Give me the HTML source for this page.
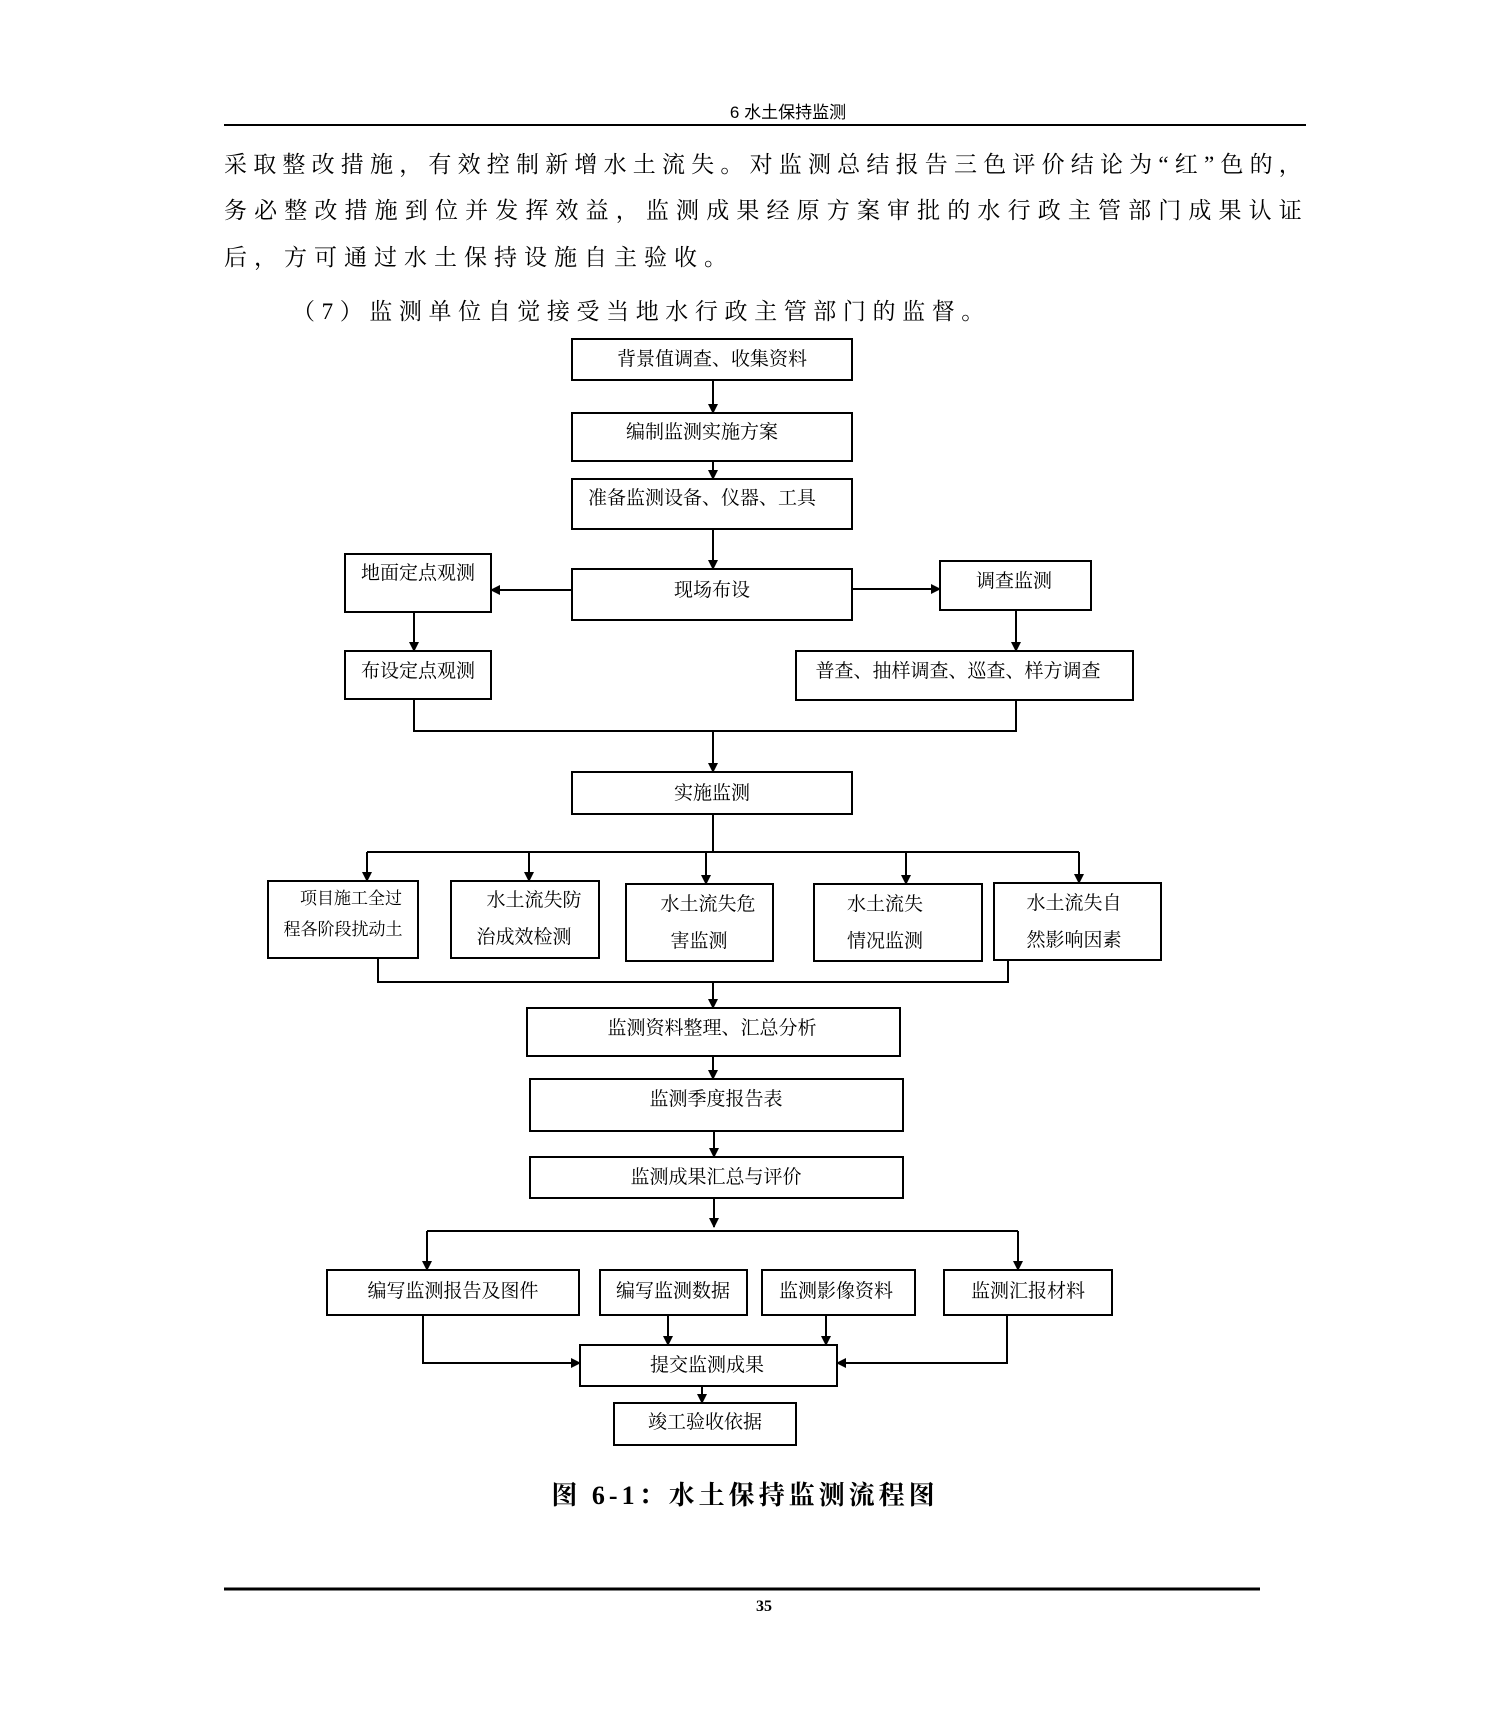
<!DOCTYPE html>
<html><head><meta charset="utf-8"><style>
html,body{margin:0;padding:0;background:#fff;}
svg{display:block}
text{font-family:"Liberation Serif","Noto Serif CJK SC",serif;fill:#000}
.b{fill:#fff;stroke:#000;stroke-width:2}
.l{stroke:#000;stroke-width:2;fill:none}
.t{font-size:19px}
.p{font-size:23px;letter-spacing:4.2px}
</style></head><body>
<svg width="1489" height="1719" viewBox="0 0 1489 1719" xmlns="http://www.w3.org/2000/svg">
<defs><marker id="a" markerWidth="10" markerHeight="10" refX="9" refY="5" orient="auto" markerUnits="userSpaceOnUse"><path d="M0,0 L10,5 L0,10 z" fill="#000"/></marker></defs>
<text x="788" y="118" font-size="17" text-anchor="middle" style="font-family:'Liberation Sans','Noto Sans CJK SC',sans-serif">6 水土保持监测</text>
<line x1="224" y1="125" x2="1306" y2="125" stroke="#000" stroke-width="2"/>
<text class="p" x="224" y="172" textLength="1082" lengthAdjust="spacing">采取整改措施，有效控制新增水土流失。对监测总结报告三色评价结论为“红”色的，</text>
<text class="p" x="224" y="218" textLength="1082" lengthAdjust="spacing">务必整改措施到位并发挥效益，监测成果经原方案审批的水行政主管部门成果认证</text>
<text class="p" x="224" y="265" style="letter-spacing:7px">后，方可通过水土保持设施自主验收。</text>
<text class="p" x="292" y="319" style="letter-spacing:6.6px">（7）监测单位自觉接受当地水行政主管部门的监督。</text>

<g>
<rect class="b" x="572" y="339" width="280" height="41"/><text class="t" x="712" y="365" text-anchor="middle">背景值调查、收集资料</text>
<rect class="b" x="572" y="413" width="280" height="48"/><text class="t" x="702" y="438" text-anchor="middle">编制监测实施方案</text>
<rect class="b" x="572" y="479" width="280" height="50"/><text class="t" x="702" y="504" text-anchor="middle">准备监测设备、仪器、工具</text>
<rect class="b" x="572" y="569" width="280" height="51"/><text class="t" x="712" y="596" text-anchor="middle">现场布设</text>
<rect class="b" x="345" y="554" width="146" height="58"/><text class="t" x="418" y="579" text-anchor="middle">地面定点观测</text>
<rect class="b" x="940" y="561" width="151" height="49"/><text class="t" x="1014" y="587" text-anchor="middle">调查监测</text>
<rect class="b" x="345" y="651" width="146" height="48"/><text class="t" x="418" y="677" text-anchor="middle">布设定点观测</text>
<rect class="b" x="796" y="651" width="337" height="49"/><text class="t" x="958" y="677" text-anchor="middle">普查、抽样调查、巡查、样方调查</text>
<rect class="b" x="572" y="772" width="280" height="42"/><text class="t" x="712" y="799" text-anchor="middle">实施监测</text>

<rect class="b" x="268" y="881" width="150" height="77"/><text x="351" y="904" font-size="17" text-anchor="middle">项目施工全过</text><text x="343" y="935" font-size="17" text-anchor="middle">程各阶段扰动土</text>
<rect class="b" x="451" y="881" width="148" height="77"/><text class="t" x="534" y="906" text-anchor="middle">水土流失防</text><text class="t" x="524" y="943" text-anchor="middle">治成效检测</text>
<rect class="b" x="626" y="884" width="147" height="77"/><text class="t" x="708" y="910" text-anchor="middle">水土流失危</text><text class="t" x="699" y="947" text-anchor="middle">害监测</text>
<rect class="b" x="814" y="884" width="168" height="77"/><text class="t" x="885" y="910" text-anchor="middle">水土流失</text><text class="t" x="885" y="947" text-anchor="middle">情况监测</text>
<rect class="b" x="994" y="883" width="167" height="77"/><text class="t" x="1074" y="909" text-anchor="middle">水土流失自</text><text class="t" x="1074" y="946" text-anchor="middle">然影响因素</text>

<rect class="b" x="527" y="1008" width="373" height="48"/><text class="t" x="712" y="1034" text-anchor="middle">监测资料整理、汇总分析</text>
<rect class="b" x="530" y="1079" width="373" height="52"/><text class="t" x="716" y="1105" text-anchor="middle">监测季度报告表</text>
<rect class="b" x="530" y="1157" width="373" height="41"/><text class="t" x="716" y="1183" text-anchor="middle">监测成果汇总与评价</text>

<rect class="b" x="327" y="1270" width="252" height="45"/><text class="t" x="453" y="1297" text-anchor="middle">编写监测报告及图件</text>
<rect class="b" x="600" y="1270" width="147" height="45"/><text class="t" x="673" y="1297" text-anchor="middle">编写监测数据</text>
<rect class="b" x="762" y="1270" width="153" height="45"/><text class="t" x="836" y="1297" text-anchor="middle">监测影像资料</text>
<rect class="b" x="944" y="1270" width="168" height="45"/><text class="t" x="1028" y="1297" text-anchor="middle">监测汇报材料</text>
<rect class="b" x="580" y="1345" width="257" height="41"/><text class="t" x="707" y="1371" text-anchor="middle">提交监测成果</text>
<rect class="b" x="614" y="1403" width="182" height="42"/><text class="t" x="705" y="1428" text-anchor="middle">竣工验收依据</text>
</g>

<g class="l">
<line x1="713" y1="380" x2="713" y2="413" marker-end="url(#a)"/>
<line x1="713" y1="461" x2="713" y2="479" marker-end="url(#a)"/>
<line x1="713" y1="529" x2="713" y2="569" marker-end="url(#a)"/>
<line x1="572" y1="590" x2="491" y2="590" marker-end="url(#a)"/>
<line x1="852" y1="589" x2="940" y2="589" marker-end="url(#a)"/>
<line x1="414" y1="612" x2="414" y2="651" marker-end="url(#a)"/>
<line x1="1016" y1="610" x2="1016" y2="651" marker-end="url(#a)"/>
<polyline points="414,699 414,731 1016,731 1016,700"/>
<line x1="713" y1="731" x2="713" y2="772" marker-end="url(#a)"/>
<line x1="713" y1="814" x2="713" y2="852"/>
<line x1="367" y1="852" x2="1079" y2="852"/>
<line x1="367" y1="852" x2="367" y2="881" marker-end="url(#a)"/>
<line x1="529" y1="852" x2="529" y2="881" marker-end="url(#a)"/>
<line x1="706" y1="852" x2="706" y2="884" marker-end="url(#a)"/>
<line x1="906" y1="852" x2="906" y2="884" marker-end="url(#a)"/>
<line x1="1079" y1="852" x2="1079" y2="883" marker-end="url(#a)"/>
<polyline points="378,958 378,982 1008,982 1008,960"/>
<line x1="713" y1="982" x2="713" y2="1008" marker-end="url(#a)"/>
<line x1="713" y1="1056" x2="713" y2="1079" marker-end="url(#a)"/>
<line x1="714" y1="1131" x2="714" y2="1157" marker-end="url(#a)"/>
<line x1="714" y1="1198" x2="714" y2="1227" marker-end="url(#a)"/>
<line x1="427" y1="1231" x2="1018" y2="1231"/>
<line x1="427" y1="1231" x2="427" y2="1270" marker-end="url(#a)"/>
<line x1="1018" y1="1231" x2="1018" y2="1270" marker-end="url(#a)"/>
<polyline points="423,1315 423,1363 580,1363" marker-end="url(#a)"/>
<polyline points="1007,1315 1007,1363 837,1363" marker-end="url(#a)"/>
<line x1="668" y1="1315" x2="668" y2="1345" marker-end="url(#a)"/>
<line x1="826" y1="1315" x2="826" y2="1345" marker-end="url(#a)"/>
<line x1="702" y1="1386" x2="702" y2="1403" marker-end="url(#a)"/>
</g>

<text x="745" y="1504" font-size="26" font-weight="bold" text-anchor="middle" letter-spacing="4">图 6-1：水土保持监测流程图</text>
<line x1="224" y1="1589" x2="1260" y2="1589" stroke="#000" stroke-width="3"/>
<text x="764" y="1611" font-size="16" font-weight="bold" text-anchor="middle">35</text>
</svg>
</body></html>
